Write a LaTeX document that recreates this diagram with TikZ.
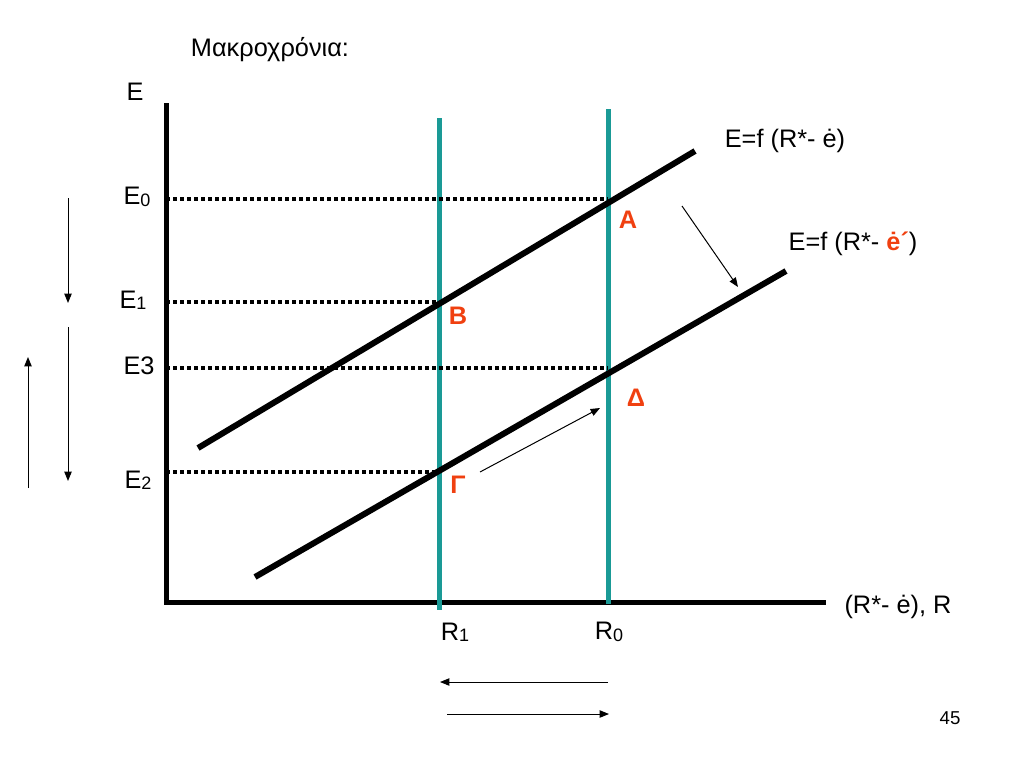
\documentclass[tikz,border=0pt]{standalone}
\usepackage{fontspec}
\setmainfont{Liberation Sans}
\usetikzlibrary{arrows.meta}
\definecolor{rteal}{RGB}{26,154,150}
\definecolor{ptred}{RGB}{240,64,16}
\newcommand{\lowdigit}[1]{{\fontsize{13.5}{13.5}\selectfont\raisebox{-1pt}{#1}}}
\begin{document}
\begin{tikzpicture}[x=0.75pt,y=-0.75pt,
  every node/.style={inner sep=0pt},
  axis/.style={line width=3.75pt},
  curve/.style={line width=4.5pt},
  rline/.style={rteal,line width=3.75pt},
  guide/.style={line width=2.5pt,dash pattern=on 3pt off 2.25pt},
  shiftarrow/.style={line width=0.75pt,-{Triangle[length=7pt,width=5.5pt]}},
  lbl/.style={font=\fontsize{19}{19}\selectfont},
  ptlbl/.style={text=ptred,font=\fontsize{19}{19}\selectfont\bfseries}]
\useasboundingbox (0,0) rectangle (1024,768);
% axes
\coordinate (ytop) at (166,103);
\coordinate (orig) at (166,602);
\coordinate (xend) at (826,602);
\draw [axis] (ytop) -- (166,604);
\draw [axis] (164,602) -- (xend);
% R lines
\coordinate (r1top) at (439,118);
\coordinate (r1bot) at (439,610);
\coordinate (r0top) at (608,109);
\coordinate (r0bot) at (608,604);
\draw [rline] (r1top) -- (r1bot);
\draw [rline] (r0top) -- (r0bot);
% guides
\coordinate (e0) at (166,199);
\coordinate (e1) at (166,302);
\coordinate (e3) at (166,368);
\coordinate (e2) at (166,472);
\draw [guide] (e0) -- (608,199);
\draw [guide] (e1) -- (439,302);
\draw [guide] (e3) -- (608,368);
\draw [guide] (e2) -- (439,472);
% E = f lines
\coordinate (c1a) at (198,448);
\coordinate (c1b) at (695,151);
\coordinate (c2a) at (255,577);
\coordinate (c2b) at (786,271);
\draw [curve] (c1a) -- (c1b);
\draw [curve] (c2a) -- (c2b);
% texts
\node [lbl] (title) at (270,50) {Μακροχρόνια:};
\node [lbl] (ylab) at (135,92) {E};
\node [lbl] (le0) at (137,197) {E\lowdigit{0}};
\node [lbl] (le1) at (133,300) {E\lowdigit{1}};
\node [lbl] (le3) at (139,366) {E3};
\node [lbl] (le2) at (138,480) {E\lowdigit{2}};
\node [lbl] (f1) at (785,141) {E=f (R*- ė)};
\node [lbl] (f2) at (853,244) {E=f (R*- {\color{ptred}\bfseries ė´})};
\node [lbl] (xlab) at (898,607) {(R*- ė), R};
\node [lbl] (lr1) at (455,632) {R\lowdigit{1}};
\node [lbl] (lr0) at (609,632) {R\lowdigit{0}};
\node [font=\fontsize{14}{14}\selectfont] (page) at (950,718) {45};
\node [ptlbl] (pA) at (628,220) {Α};
\node [ptlbl] (pB) at (458,316) {Β};
\node [ptlbl] (pD) at (636,398) {Δ};
\node [ptlbl] (pG) at (458,485) {Γ};
% shift arrows
\coordinate (s1a) at (682,206);
\coordinate (s1b) at (738,287);
\coordinate (s2a) at (480,472);
\coordinate (s2b) at (600,408);
\draw [shiftarrow] (s1a) -- (s1b);
\draw [shiftarrow] (s2a) -- (s2b);
\coordinate (ba) at (608,682);
\coordinate (bb) at (440,682);
\coordinate (bc) at (447,714);
\coordinate (bd) at (609,714);
\draw [shiftarrow] (ba) -- (bb);
\draw [shiftarrow] (bc) -- (bd);
\coordinate (la) at (68,198);
\coordinate (lb) at (68,303);
\coordinate (lc) at (68,327);
\coordinate (ld) at (68,481);
\coordinate (le) at (28,488);
\coordinate (lf) at (28,357);
\draw [shiftarrow] (la) -- (lb);
\draw [shiftarrow] (lc) -- (ld);
\draw [shiftarrow] (le) -- (lf);
\end{tikzpicture}
\end{document}
